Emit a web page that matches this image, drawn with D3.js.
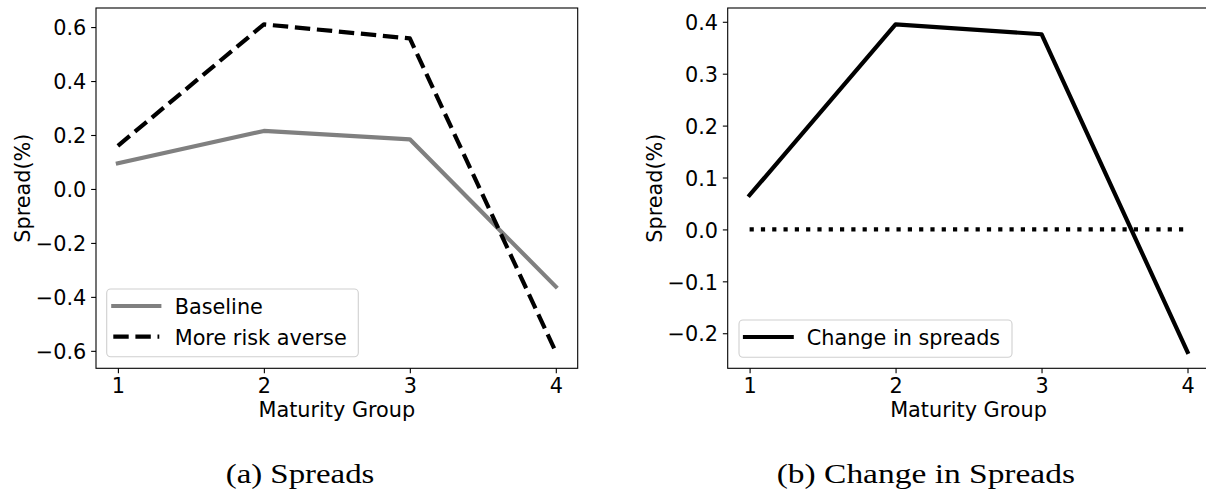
<!DOCTYPE html>
<html>
<head>
<meta charset="utf-8">
<script src="https://cdn.jsdelivr.net/npm/d3@7"></script>
<style>
  html, body { margin: 0; padding: 0; background: #fff; }
  svg { display: block; }
</style>
</head>
<body>
<svg id="chart" width="1206" height="494"></svg>
<script>
// ---- data ----
const maturityGroups = [1, 2, 3, 4];
const baselineSpread = [0.095, 0.215, 0.184, -0.362];
const riskAverseSpread = [0.160, 0.610, 0.558, -0.604];
const changeInSpreads = [0.066, 0.395, 0.376, -0.236];
const zeroLine = [0, 0, 0, 0];
const leftYTicks = [-0.6, -0.4, -0.2, 0.0, 0.2, 0.4, 0.6];
const rightYTicks = [-0.2, -0.1, 0.0, 0.1, 0.2, 0.3, 0.4];
const xTicks = [1, 2, 3, 4];
const legendLeft = ["Baseline", "More risk averse"];
const legendRight = ["Change in spreads"];
const captions = ["(a) Spreads", "(b) Change in Spreads"];
const xLabel = "Maturity Group";
const yLabel = "Spread(%)";

// ---- layout ----
const FONT = "DejaVu Sans, sans-serif";
const FS = 20.8;
const LW = 4.2;
const TICK = 4.86;
const plotTop = 8, plotBottom = 368.3;

const svg = d3.select("#chart");
svg.append("rect").attr("width", 1206).attr("height", 494).attr("fill", "#fff");

function padded(vals) {
  const [mn, mx] = d3.extent(vals);
  const p = (mx - mn) * 0.05;
  return [mn - p, mx + p];
}

function panel(opts) {
  const g = svg.append("g");
  const x = d3.scaleLinear().domain(padded(maturityGroups)).range([opts.left, opts.right]);
  const y = d3.scaleLinear().domain(padded(opts.allVals)).range([plotBottom, plotTop]);

  // lines
  opts.series.forEach(s => {
    const line = d3.line().x((d, i) => x(maturityGroups[i])).y(d => y(d));
    g.append("path")
      .datum(s.values)
      .attr("d", line)
      .attr("fill", "none")
      .attr("stroke", s.color)
      .attr("stroke-width", LW)
      .attr("stroke-linejoin", "round")
      .attr("stroke-linecap", s.dash ? "butt" : "square")
      .attr("stroke-dasharray", s.dash || null);
  });

  // axes
  const xa = g.append("g").attr("transform", `translate(0,${plotBottom})`)
    .call(d3.axisBottom(x).tickValues(xTicks).tickFormat(d3.format("d"))
      .tickSize(TICK).tickPadding(TICK).tickSizeOuter(0));
  const ya = g.append("g").attr("transform", `translate(${opts.left},0)`)
    .call(d3.axisLeft(y).tickValues(opts.yTicks).tickFormat(d3.format(".1f"))
      .tickSize(TICK).tickPadding(TICK).tickSizeOuter(0));
  [xa, ya].forEach(a => {
    a.select(".domain").remove();
    a.selectAll(".tick line").attr("stroke", "#000").attr("stroke-width", 1.1);
    a.selectAll(".tick text").attr("font-family", FONT).attr("font-size", FS).attr("fill", "#000");
  });
  ya.selectAll(".tick text").attr("dy", "0.37em");

  // frame
  g.append("rect")
    .attr("x", opts.left).attr("y", plotTop)
    .attr("width", opts.right - opts.left).attr("height", plotBottom - plotTop)
    .attr("fill", "none").attr("stroke", "#000").attr("stroke-width", 1.1);

  // axis labels
  g.append("text")
    .attr("x", (opts.left + opts.right) / 2).attr("y", 416.7)
    .attr("text-anchor", "middle")
    .attr("font-family", FONT).attr("font-size", FS)
    .text(xLabel);
  g.append("text")
    .attr("transform", `translate(${opts.left - 66},${(plotTop + plotBottom) / 2}) rotate(-90)`)
    .attr("text-anchor", "middle")
    .attr("font-family", FONT).attr("font-size", FS)
    .text(yLabel);

  // legend
  const L = opts.legend;
  g.append("rect")
    .attr("x", L.x).attr("y", L.y).attr("width", L.w).attr("height", L.h)
    .attr("rx", 4).attr("ry", 4)
    .attr("fill", "#fff").attr("fill-opacity", 0.8)
    .attr("stroke", "#d0d0d0").attr("stroke-width", 1.1);
  L.items.forEach((it, i) => {
    const s = opts.series[it.series];
    g.append("line")
      .attr("x1", L.lineX0).attr("x2", L.lineX1)
      .attr("y1", L.rows[i]).attr("y2", L.rows[i])
      .attr("stroke", s.color).attr("stroke-width", LW)
      .attr("stroke-linecap", s.dash ? "butt" : "square")
      .attr("stroke-dasharray", s.dash || null);
    g.append("text")
      .attr("x", L.textX).attr("y", L.rows[i] + 7.8)
      .attr("font-family", FONT).attr("font-size", FS)
      .text(it.label);
  });
}

panel({
  left: 96, right: 577.7,
  allVals: baselineSpread.concat(riskAverseSpread),
  yTicks: leftYTicks,
  series: [
    { values: baselineSpread, color: "#808080", dash: null },
    { values: riskAverseSpread, color: "#000", dash: "15.4,6.7" }
  ],
  legend: {
    x: 106.7, y: 289, w: 251.6, h: 67.7,
    lineX0: 113.3, lineX1: 159.3, textX: 174.7,
    rows: [306, 336.7],
    items: [{ series: 0, label: legendLeft[0] }, { series: 1, label: legendLeft[1] }]
  }
});

panel({
  left: 727.7, right: 1209.4,
  allVals: changeInSpreads,
  yTicks: rightYTicks,
  series: [
    { values: changeInSpreads, color: "#000", dash: null },
    { values: zeroLine, color: "#000", dash: "4.2,7.1" }
  ],
  legend: {
    x: 739, y: 320, w: 273, h: 37.3,
    lineX0: 745, lineX1: 791.7, textX: 806.7,
    rows: [337],
    items: [{ series: 0, label: legendRight[0] }]
  }
});

// captions
const capPos = [{ x: 225.7, w: 148.7 }, { x: 776.7, w: 298.3 }];
captions.forEach((c, i) => {
  svg.append("text")
    .attr("x", capPos[i].x).attr("y", 482.7)
    .attr("font-family", "Liberation Serif, serif")
    .attr("font-size", 27)
    .attr("textLength", capPos[i].w)
    .attr("lengthAdjust", "spacingAndGlyphs")
    .attr("fill", "#000")
    .text(c);
});
</script>
</body>
</html>
